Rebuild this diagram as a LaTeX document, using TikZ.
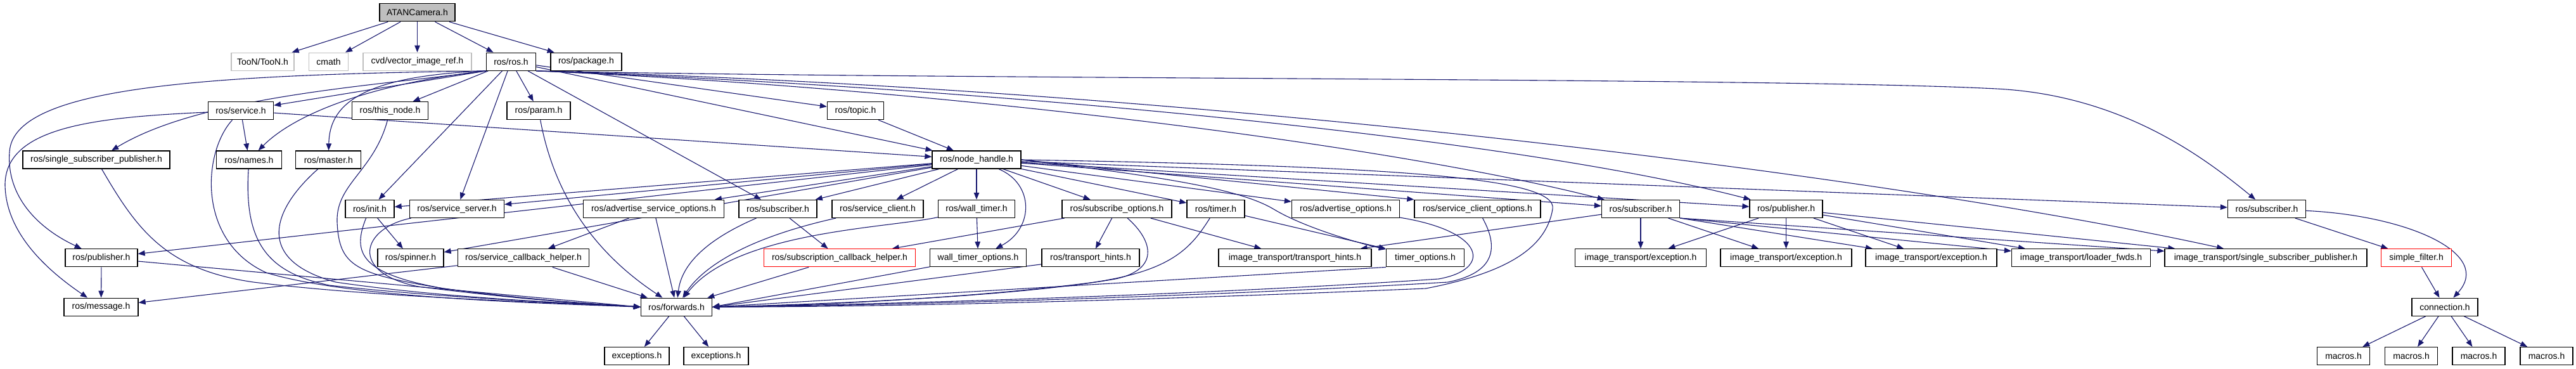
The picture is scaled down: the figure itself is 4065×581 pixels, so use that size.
\documentclass[tikz,border=0pt]{standalone}
\usepackage{fontspec}
\setmainfont{Liberation Sans}
\usetikzlibrary{arrows.meta,backgrounds}
\definecolor{edgec}{HTML}{191970}
\definecolor{greyb}{HTML}{BFBFBF}
\begin{document}
\begin{tikzpicture}[x=1pt,y=-1pt,
  nb/.style={draw=black, line width=1.3pt, fill=white, minimum height=28pt, inner sep=0pt, font=\fontsize{14}{16}\selectfont},
  gb/.style={nb, draw=greyb},
  rb/.style={nb, draw=red},
  e/.style={draw=edgec, line width=1.1pt, -{Triangle[length=11pt,width=8.5pt]}}]
\useasboundingbox (0,0) rectangle (4065,581);
% row 0
\node[nb, fill=greyb, minimum width=119pt] (atan) at (658.5,19.8) {ATANCamera.h};
% row 1
\node[gb, minimum width=99pt] (toon) at (414.5,97.2) {TooN/TooN.h};
\node[gb, minimum width=62pt] (cmath) at (518.5,97.2) {cmath};
\node[gb, minimum width=171pt] (cvd) at (658.5,97.2) {cvd/vector\_image\_ref.h};
\node[nb, minimum width=78pt] (rosros) at (806.5,97.2) {ros/ros.h};
\node[nb, minimum width=112pt] (pkg) at (925,97.2) {ros/package.h};
% row 2
\node[nb, minimum width=103pt] (service) at (380,174.6) {ros/service.h};
\node[nb, minimum width=120pt] (thisnode) at (615.5,174.6) {ros/this\_node.h};
\node[nb, minimum width=100pt] (param) at (850,174.6) {ros/param.h};
\node[nb, minimum width=89pt] (topic) at (1350,174.6) {ros/topic.h};
% row 3
\node[nb, minimum width=232pt] (ssp) at (152,252) {ros/single\_subscriber\_publisher.h};
\node[nb, minimum width=103pt] (names) at (393,252) {ros/names.h};
\node[nb, minimum width=103pt] (master) at (518.3,252) {ros/master.h};
\node[nb, minimum width=140pt] (nh) at (1541,252) {ros/node\_handle.h};
% row 4
\node[nb, minimum width=77pt] (init) at (583.5,329.4) {ros/init.h};
\node[nb, minimum width=149pt] (sserver) at (721,329.4) {ros/service\_server.h};
\node[nb, minimum width=222pt] (aso) at (1031.5,329.4) {ros/advertise\_service\_options.h};
\node[nb, minimum width=123pt] (sub1) at (1227.5,329.4) {ros/subscriber.h};
\node[nb, minimum width=144pt] (sclient) at (1385,329.4) {ros/service\_client.h};
\node[nb, minimum width=121pt] (wtimer) at (1541,329.4) {ros/wall\_timer.h};
\node[nb, minimum width=173pt] (subopt) at (1762.5,329.4) {ros/subscribe\_options.h};
\node[nb, minimum width=91pt] (timer) at (1918.5,329.4) {ros/timer.h};
\node[nb, minimum width=170pt] (advopt) at (2123.5,329.4) {ros/advertise\_options.h};
\node[nb, minimum width=199pt] (sco) at (2331.5,329.4) {ros/service\_client\_options.h};
\node[nb, minimum width=123pt] (sub2) at (2589,329.4) {ros/subscriber.h};
\node[nb, minimum width=115pt] (pub2) at (2818.5,329.4) {ros/publisher.h};
\node[nb, minimum width=123pt] (sub3) at (3577,329.4) {ros/subscriber.h};
% row 5
\node[nb, minimum width=114pt] (pub1) at (160,406.8) {ros/publisher.h};
\node[nb, minimum width=104pt] (spinner) at (648,406.8) {ros/spinner.h};
\node[nb, minimum width=207pt] (scbh) at (826,406.8) {ros/service\_callback\_helper.h};
\node[rb, minimum width=239pt] (subcbh) at (1325,406.8) {ros/subscription\_callback\_helper.h};
\node[nb, minimum width=152pt] (wto) at (1543.5,406.8) {wall\_timer\_options.h};
\node[nb, minimum width=154pt] (th1) at (1721,406.8) {ros/transport\_hints.h};
\node[nb, minimum width=241pt] (itth) at (2043.5,406.8) {image\_transport/transport\_hints.h};
\node[nb, minimum width=123pt] (tio) at (2249,406.8) {timer\_options.h};
\node[nb, minimum width=207pt] (ex1) at (2589,406.8) {image\_transport/exception.h};
\node[nb, minimum width=207pt] (ex2) at (2818.5,406.8) {image\_transport/exception.h};
\node[nb, minimum width=207pt] (ex3) at (3047.5,406.8) {image\_transport/exception.h};
\node[nb, minimum width=219pt] (lfw) at (3284,406.8) {image\_transport/loader\_fwds.h};
\node[nb, minimum width=319pt] (itssp) at (3575.5,406.8) {image\_transport/single\_subscriber\_publisher.h};
\node[rb, minimum width=111pt] (sf) at (3813,406.8) {simple\_filter.h};
% row 6
\node[nb, minimum width=117pt] (msg) at (159.5,484.2) {ros/message.h};
\node[nb, minimum width=112pt] (fwd) at (1067.5,484.2) {ros/forwards.h};
\node[nb, minimum width=104pt] (conn) at (3858,484.2) {connection.h};
% row 7
\node[nb, minimum width=102pt] (exc1) at (1005,561.6) {exceptions.h};
\node[nb, minimum width=102pt] (exc2) at (1130,561.6) {exceptions.h};
\node[nb, minimum width=83pt] (mac1) at (3698,561.6) {macros.h};
\node[nb, minimum width=83pt] (mac2) at (3805,561.6) {macros.h};
\node[nb, minimum width=83pt] (mac3) at (3911.5,561.6) {macros.h};
\node[nb, minimum width=83pt] (mac4) at (4018.5,561.6) {macros.h};

\begin{scope}[on background layer]
\fill[white] (0,0) rectangle (4065,581);
% ATANCamera.h
\draw[e] (atan) -- (toon);
\draw[e] (atan) -- (cmath);
\draw[e] (atan) -- (cvd);
\draw[e] (atan) -- (rosros);
\draw[e] (atan) -- (pkg);
% ros/ros.h
\draw[e] (rosros.south west) -- (service);
\draw[e] (rosros) -- (thisnode);
\draw[e] (rosros) -- (param);
\draw[e] (rosros) -- (topic);
\draw[e] (rosros) -- (nh);
\draw[e] (rosros) -- (init);
\draw[e] (rosros) -- (sserver);
\draw[e] (rosros) -- (sub1);
\draw[e] (rosros.south west) .. controls (600,135) and (320,150) .. (ssp);
\draw[e] (rosros.south west) .. controls (600,130) and (470,175) .. (names);
\draw[e] (rosros.south west) .. controls (560,120) and (520,170) .. (master);
\draw[e] (rosros.south west) .. controls (300,118) and (20,140) .. (15,240) .. controls (10,310) and (60,360) .. (pub1);
\draw[e] (rosros.south east) .. controls (1500,126) and (2800,122) .. (3150,140) .. controls (3350,150) and (3480,250) .. (sub3);
\draw[e] (rosros.south east) .. controls (1500,140) and (2200,230) .. (sub2);
\draw[e] (rosros.south east) .. controls (1600,140) and (2400,220) .. (pub2);
\draw[e] (rosros.south east) .. controls (1900,140) and (3000,280) .. (itssp);
% ros/service.h
\draw[e] (service) -- (names);
\draw[e] (service) -- (nh);
\draw[e] (service) .. controls (150,185) and (10,200) .. (8,290) .. controls (8,370) and (80,430) .. (msg);
\draw[e] (service) .. controls (320,240) and (310,380) .. (420,430) .. controls (550,470) and (850,478) .. (fwd.west);
% ros/topic.h
\draw[e] (topic) -- (nh);
% ros/node_handle.h
\draw[e] (nh) -- (pub1);
\draw[e] (nh) -- (init);
\draw[e] (nh) -- (sserver);
\draw[e] (nh) -- (spinner);
\draw[e] (nh) -- (aso);
\draw[e] (nh) -- (sub1);
\draw[e] (nh) -- (sclient);
\draw[e] (nh) -- (wtimer);
\draw[e] (nh) .. controls (1632,290) and (1632,360) .. (wto);
\draw[e] (nh) -- (subopt);
\draw[e] (nh) -- (timer);
\draw[e] (nh) -- (advopt);
\draw[e] (nh.east) -- (sco.north west);
\draw[e] (nh.east) .. controls (1850,280) and (1960,300) .. (2010,330) .. controls (2060,360) and (2150,385) .. (tio);
\draw[e] (nh) -- (sub2);
\draw[e] (nh) -- (pub2);
\draw[e] (nh) -- (sub3);
\draw[e] (nh.east) .. controls (2200,262) and (2460,280) .. (2450,330) .. controls (2440,390) and (2380,430) .. (2250,455) .. controls (1700,478) and (1350,484) .. (fwd.east);
% left bundle into ros/forwards.h
\draw[e] (ssp) .. controls (215,360) and (260,425) .. (400,445) .. controls (600,470) and (900,478) .. (fwd.west);
\draw[e] (pub1) -- (fwd.west);
\draw[e] (names) .. controls (385,380) and (420,430) .. (520,450) .. controls (700,470) and (900,478) .. (fwd.west);
\draw[e] (master) .. controls (430,330) and (400,410) .. (530,445) .. controls (700,470) and (900,478) .. (fwd.west);
\draw[e] (thisnode) .. controls (590,270) and (530,290) .. (532,350) .. controls (535,420) and (560,432) .. (700,455) .. controls (850,475) and (950,480) .. (fwd.west);
\draw[e] (init) .. controls (555,400) and (570,432) .. (700,455) .. controls (850,475) and (950,480) .. (fwd.west);
\draw[e] (sserver) .. controls (570,360) and (550,430) .. (660,452) .. controls (850,476) and (950,480) .. (fwd.west);
\draw[e] (init) -- (spinner);
% middle
\draw[e] (param) .. controls (875,310) and (940,400) .. (fwd);
\draw[e] (aso) -- (scbh);
\draw[e] (aso) -- (fwd);
\draw[e] (scbh) -- (fwd);
\draw[e] (scbh) -- (msg);
\draw[e] (sub1) -- (subcbh);
\draw[e] (sub1) .. controls (1110,380) and (1075,420) .. (fwd);
\draw[e] (sclient) .. controls (1180,375) and (1110,420) .. (fwd);
\draw[e] (wtimer) -- (wto);
\draw[e] (wtimer) .. controls (1400,360) and (1160,365) .. (fwd);
\draw[e] (subcbh) -- (fwd);
% right bundle into ros/forwards.h
\draw[e] (subopt) -- (subcbh);
\draw[e] (subopt) -- (th1);
\draw[e] (subopt) -- (itth);
\draw[e] (subopt) .. controls (1820,380) and (1830,425) .. (1760,440) .. controls (1600,468) and (1300,480) .. (fwd.east);
\draw[e] (timer) -- (tio);
\draw[e] (timer) .. controls (1880,390) and (1850,428) .. (1720,446) .. controls (1550,468) and (1300,482) .. (fwd.east);
\draw[e] (wto) -- (fwd.east);
\draw[e] (th1) -- (fwd.east);
\draw[e] (tio.south west) -- (fwd.east);
\draw[e] (advopt) .. controls (2345,365) and (2355,425) .. (2270,440) .. controls (1900,465) and (1400,480) .. (fwd.east);
\draw[e] (sco) .. controls (2365,390) and (2360,430) .. (2285,445) .. controls (1900,468) and (1400,482) .. (fwd.east);
% image_transport subscriber / publisher
\draw[e] (sub2) -- (itth);
\draw[e] (sub2) -- (ex1);
\draw[e] (sub2) -- (ex2);
\draw[e] (sub2.south east) -- (ex3);
\draw[e] (sub2.south east) -- (lfw);
\draw[e] (sub2.south east) -- (itssp);
\draw[e] (pub2) -- (ex1);
\draw[e] (pub2) -- (ex2);
\draw[e] (pub2) -- (ex3);
\draw[e] (pub2) -- (lfw);
\draw[e] (pub2) -- (itssp);
% message_filters side
\draw[e] (sub3) -- (sf);
\draw[e] (sub3) .. controls (3800,340) and (3935,400) .. (conn);
\draw[e] (sf) -- (conn);
\draw[e] (conn) -- (mac1);
\draw[e] (conn) -- (mac2);
\draw[e] (conn) -- (mac3);
\draw[e] (conn) -- (mac4);
% bottom
\draw[e] (pub1) -- (msg);
\draw[e] (fwd) -- (exc1);
\draw[e] (fwd) -- (exc2);
\end{scope}
\end{tikzpicture}
\end{document}
